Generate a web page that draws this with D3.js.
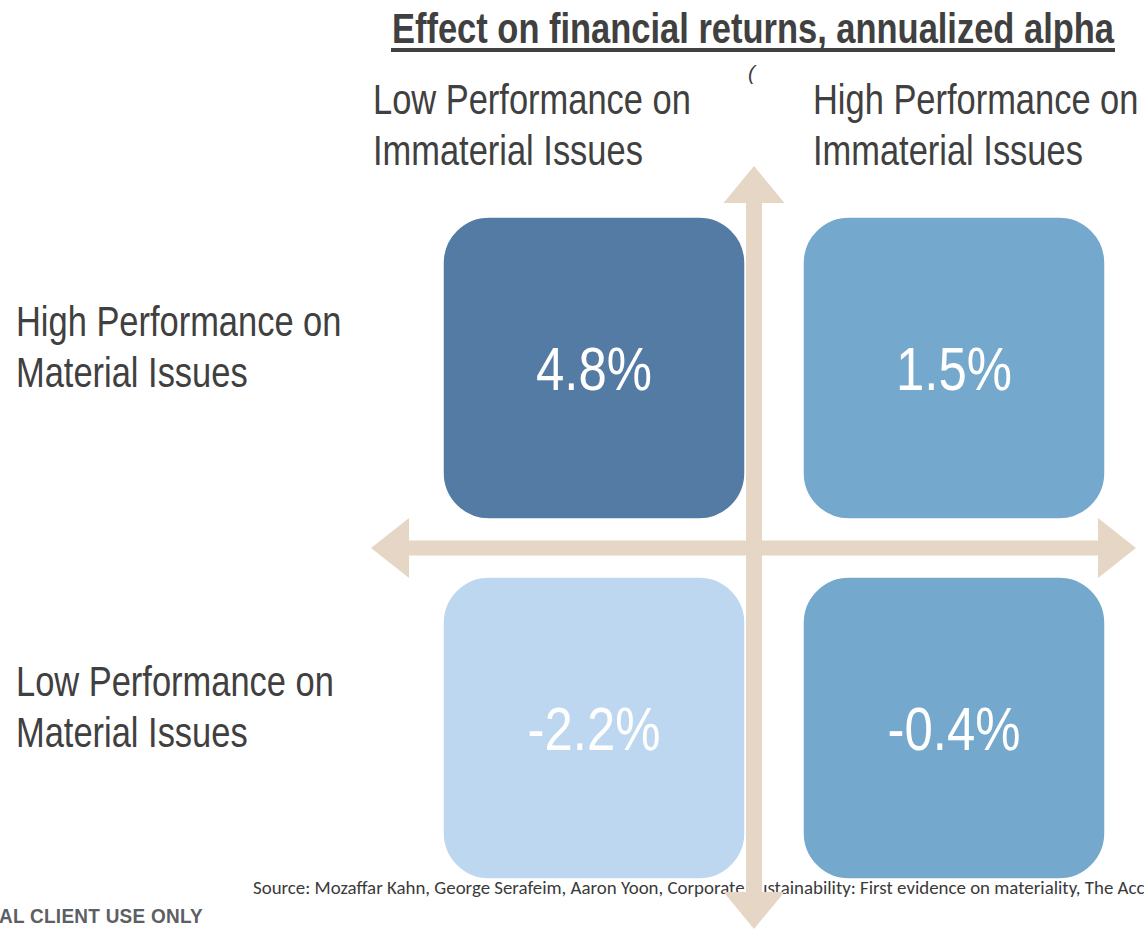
<!DOCTYPE html>
<html>
<head>
<meta charset="utf-8">
<script src="https://cdn.jsdelivr.net/npm/d3@7"></script>
<style>
  html, body { margin: 0; padding: 0; background: #fff; overflow: hidden; }
  svg { display: block; }
  .narrow { font-family: "Liberation Sans Narrow", "Arial Narrow", "Liberation Sans", Arial, sans-serif; }
</style>
</head>
<body>
<svg id="chart" width="1144" height="930"></svg>
<script>
// data
const title = "Effect on financial returns, annualized alpha";
const columns = ["Low Performance on Immaterial Issues", "High Performance on Immaterial Issues"];
const columnLines = [["Low Performance on", "Immaterial Issues"], ["High Performance on", "Immaterial Issues"]];
const rows = ["High Performance on Material Issues", "Low Performance on Material Issues"];
const rowLines = [["High Performance on", "Material Issues"], ["Low Performance on", "Material Issues"]];
const alpha = [
  { row: rows[0], col: columns[0], value: 4.8 },
  { row: rows[0], col: columns[1], value: 1.5 },
  { row: rows[1], col: columns[0], value: -2.2 },
  { row: rows[1], col: columns[1], value: -0.4 }
];
const sourceText = "Source: Mozaffar Kahn, George Serafeim, Aaron Yoon, Corporate Sustainability: First evidence on materiality, The Accounting Review";
const footerText = "AL CLIENT USE ONLY";

// styles
const cellFill = { "4.8": "#547ba3", "1.5": "#74a8cc", "-2.2": "#bdd7f0", "-0.4": "#74a8cc" };
const arrowFill = "#e6d6c6";
const textGrey = "#404040";
const squeeze = 0.82; // no narrow font installed, so condense the regular one

const svg = d3.select("#chart");

const x = d3.scaleBand().domain(columns).range([443, 1105]).paddingInner(0.161);
const y = d3.scaleBand().domain(rows).range([217, 879]).paddingInner(0.161);

function narrow(sel) {
  sel.each(function() {
    const w = this.getComputedTextLength();
    d3.select(this)
      .attr("textLength", w * squeeze)
      .attr("lengthAdjust", "spacingAndGlyphs");
  });
  return sel;
}

// title
const titleWidth = 722;
svg.append("text")
  .attr("class", "narrow")
  .attr("x", 392)
  .attr("y", 43)
  .attr("font-size", 43)
  .attr("font-weight", "bold")
  .attr("fill", textGrey)
  .attr("textLength", titleWidth)
  .attr("lengthAdjust", "spacingAndGlyphs")
  .text(title);
svg.append("rect")
  .attr("x", 391).attr("y", 48)
  .attr("width", titleWidth + 2).attr("height", 4)
  .attr("fill", textGrey);

// stray mark under the title
svg.append("text")
  .attr("x", 748).attr("y", 80)
  .attr("font-family", "Liberation Sans, sans-serif")
  .attr("font-size", 21)
  .attr("font-style", "italic")
  .attr("text-decoration", "underline")
  .attr("fill", textGrey)
  .text("(");

// column headers
const colLabel = svg.append("g").selectAll("g")
  .data(columns)
  .join("g")
  .attr("transform", (d, i) => `translate(${i === 0 ? 373 : 813},114)`);
colLabel.selectAll("text")
  .data((d, i) => columnLines[i])
  .join("text")
  .attr("class", "narrow")
  .attr("y", (d, i) => i * 51)
  .attr("font-size", 42)
  .attr("fill", textGrey)
  .text(d => d)
  .call(narrow);

// row headers
const rowLabel = svg.append("g").selectAll("g")
  .data(rows)
  .join("g")
  .attr("transform", d => `translate(16,${y(d) + 119})`);
rowLabel.selectAll("text")
  .data((d, i) => rowLines[i])
  .join("text")
  .attr("class", "narrow")
  .attr("y", (d, i) => i * 51)
  .attr("font-size", 42)
  .attr("fill", textGrey)
  .text(d => d)
  .call(narrow);

// source line (arrow sits over it)
const src = svg.append("text")
  .attr("x", 253)
  .attr("y", 894)
  .attr("font-family", "Carlito, Calibri, Lato, 'Open Sans', sans-serif")
  .attr("font-size", 18)
  .attr("fill", "#3a3a3a")
  .text("Source: Mozaffar Kahn, George Serafeim, Aaron Yoon, Corporate");
const srcW = src.node().getComputedTextLength();
src.attr("font-size", 18 * 492 / srcW).text(sourceText);

// footer
svg.append("text")
  .attr("x", -1)
  .attr("y", 923)
  .attr("font-family", "Liberation Sans, Arial, sans-serif")
  .attr("font-size", 20)
  .attr("font-weight", "bold")
  .attr("letter-spacing", 0.3)
  .attr("fill", "#5b6064")
  .text(footerText)
  .call(sel => sel.attr("textLength", 204).attr("lengthAdjust", "spacingAndGlyphs"));

// arrows
const cx = 754, cy = 548;
const vArrow = [
  [cx, 166], [cx + 30.5, 203], [cx + 8, 203], [cx + 8, 892], [cx + 30.5, 892],
  [cx, 929], [cx - 30.5, 892], [cx - 8, 892], [cx - 8, 203], [cx - 30.5, 203]
];
const hArrow = [
  [371, cy], [409, cy - 30], [409, cy - 7.5], [1098, cy - 7.5], [1098, cy - 30],
  [1136, cy], [1098, cy + 30], [1098, cy + 7.5], [409, cy + 7.5], [409, cy + 30]
];
svg.append("g").selectAll("path")
  .data([hArrow, vArrow])
  .join("path")
  .attr("d", d => d3.line()(d) + "Z")
  .attr("fill", arrowFill);

// cells
const cell = svg.append("g").selectAll("g")
  .data(alpha)
  .join("g")
  .attr("transform", d => `translate(${x(d.col)},${y(d.row)})`);

cell.append("rect")
  .attr("width", x.bandwidth())
  .attr("height", y.bandwidth())
  .attr("rx", 46)
  .attr("ry", 46)
  .attr("fill", d => cellFill[String(d.value)])
  .attr("stroke", "#fff")
  .attr("stroke-width", 1.5);

cell.append("text")
  .attr("class", "narrow")
  .attr("x", x.bandwidth() / 2)
  .attr("y", y.bandwidth() / 2 + 22)
  .attr("text-anchor", "middle")
  .attr("font-size", 62)
  .attr("fill", "#fff")
  .text(d => d.value.toFixed(1) + "%")
  .call(narrow);
</script>
</body>
</html>
